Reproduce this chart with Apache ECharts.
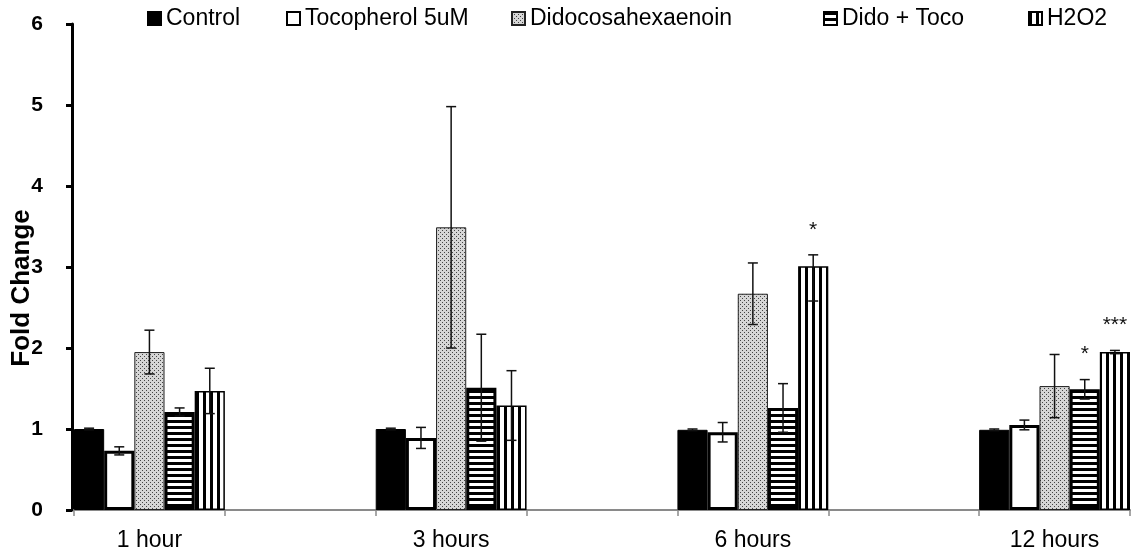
<!DOCTYPE html>
<html>
<head>
<meta charset="utf-8">
<script src="https://cdn.jsdelivr.net/npm/echarts@6/dist/echarts.min.js"></script>
<style>
html,body{margin:0;padding:0;background:#fff;}
#chart{width:1133px;height:550px;}
</style>
</head>
<body>
<div id="chart"></div>
<script>
// ---- data ----
const timepoints = ['1 hour', '3 hours', '6 hours', '12 hours'];
const seriesNames = ['Control', 'Tocopherol 5uM', 'Didocosahexaenoin', 'Dido + Toco', 'H2O2'];

const control       = [1.00, 1.00, 0.99, 0.99];
const controlErrUp  = [0.01, 0.01, 0.01, 0.01];
const controlErrDn  = [0.01, 0.01, 0.01, 0.01];

const tocopherol      = [0.73, 0.89, 0.96, 1.05];
const tocopherolErrUp = [0.05, 0.13, 0.12, 0.06];
const tocopherolErrDn = [0.05, 0.13, 0.12, 0.06];

const dido      = [1.95, 3.49, 2.67, 1.53];
const didoErrUp = [0.27, 1.49, 0.38, 0.39];
const didoErrDn = [0.27, 1.49, 0.38, 0.39];

const didoToco      = [1.21, 1.51, 1.26, 1.49];
const didoTocoErrUp = [0.05, 0.66, 0.30, 0.12];
const didoTocoErrDn = [0.05, 0.66, 0.30, 0.12];

const h2o2      = [1.47, 1.29, 3.01, 1.95];
const h2o2ErrUp = [0.28, 0.43, 0.14, 0.02];
const h2o2ErrDn = [0.28, 0.43, 0.43, 0.02];

const didoTocoSig = ['', '', '', '*'];
const h2o2Sig     = ['', '', '*', '***'];

const yTicks = [0, 1, 2, 3, 4, 5, 6];
const yTitle = 'Fold Change';

// ---- build ----
const FONT = "'Liberation Sans', Arial, sans-serif";
const categories = [];
timepoints.forEach((t, i) => { categories.push(t); if (i < timepoints.length - 1) categories.push(''); });
const catIndex = timepoints.map((t, i) => i * 2);

function spread(arr) {
  const out = categories.map(() => '-');
  arr.forEach((v, i) => { out[catIndex[i]] = v; });
  return out;
}

function pattern(kind) {
  const c = document.createElement('canvas');
  const ctx = c.getContext('2d');
  if (kind === 'dots') {
    c.width = 4; c.height = 4;
    ctx.fillStyle = '#d6d6d6'; ctx.fillRect(0, 0, 4, 4);
    ctx.fillStyle = '#444'; ctx.fillRect(0, 0, 1, 1); ctx.fillRect(2, 2, 1, 1);
  } else if (kind === 'h') {
    c.width = 6; c.height = 6;
    ctx.fillStyle = '#fff'; ctx.fillRect(0, 0, 6, 6);
    ctx.fillStyle = '#000'; ctx.fillRect(0, 0, 6, 3);
  } else {
    c.width = 7; c.height = 7;
    ctx.fillStyle = '#fff'; ctx.fillRect(0, 0, 7, 7);
    ctx.fillStyle = '#000'; ctx.fillRect(0, 0, 3, 7);
  }
  return { image: c, repeat: 'repeat' };
}

const seriesValues = [control, tocopherol, dido, didoToco, h2o2];
const errUp = [controlErrUp, tocopherolErrUp, didoErrUp, didoTocoErrUp, h2o2ErrUp];
const errDn = [controlErrDn, tocopherolErrDn, didoErrDn, didoTocoErrDn, h2o2ErrDn];
const sigs = [null, null, null, didoTocoSig, h2o2Sig];

const styles = [
  { color: '#000', borderColor: '#000', borderWidth: 1 },
  { color: '#fff', borderColor: '#000', borderWidth: 3 },
  { color: pattern('dots'), borderColor: '#222', borderWidth: 1 },
  { color: pattern('h'), borderColor: '#000', borderWidth: 3 },
  { color: pattern('v'), borderColor: '#000', borderWidth: 1.5 }
];

const barSeries = seriesNames.map((name, s) => ({
  name, type: 'bar',
  data: spread(seriesValues[s]),
  barGap: '0%', barCategoryGap: '0%',
  itemStyle: styles[s],
  emphasis: { disabled: true },
  animation: false
}));

const errData = [];
const errSig = [];
seriesValues.forEach((vals, s) => {
  vals.forEach((v, i) => {
    errData.push([catIndex[i], s, v, v - errDn[s][i], v + errUp[s][i]]);
    errSig.push(sigs[s] ? sigs[s][i] : '');
  });
});

const errSeries = {
  type: 'custom', name: 'err',
  data: errData,
  encode: { x: 0, y: [2, 3, 4] },
  z: 10, animation: false, silent: true,
  renderItem(params, api) {
    const cat = api.value(0), s = api.value(1);
    const base = api.coord([cat, 0]);
    const band = api.size([1, 0])[0];
    const bw = band / seriesNames.length;
    const x = base[0] + (s - (seriesNames.length - 1) / 2) * bw;
    const yLo = api.coord([cat, api.value(3)])[1];
    const yHi = api.coord([cat, api.value(4)])[1];
    const cap = 5;
    const ls = { stroke: '#111', lineWidth: 1.5 };
    const children = [
      { type: 'line', shape: { x1: x, y1: yLo, x2: x, y2: yHi }, style: ls },
      { type: 'line', shape: { x1: x - cap, y1: yHi, x2: x + cap, y2: yHi }, style: ls },
      { type: 'line', shape: { x1: x - cap, y1: yLo, x2: x + cap, y2: yLo }, style: ls }
    ];
    const sig = errSig[params.dataIndex];
    if (sig) {
      children.push({ type: 'text', style: { text: sig, x: x, y: yHi - 25, align: 'center', verticalAlign: 'middle', font: '21px ' + FONT, fill: '#111' } });
    }
    return { type: 'group', children };
  }
};

const legendLefts = [147, 286, 511, 823, 1028];
const legends = seriesNames.map((n, i) => ({
  data: [n], left: legendLefts[i], top: 7, padding: 0,
  icon: 'rect',
  itemWidth: 13, itemHeight: 13, itemGap: 4,
  selectedMode: false,
  textStyle: { fontSize: 23, color: '#000', fontFamily: FONT }
}));

const chart = echarts.init(document.getElementById('chart'), null, { renderer: 'canvas' });
chart.setOption({
  animation: false,
  backgroundColor: '#fff',
  legend: legends,
  grid: { left: 74, right: 3, top: 24, bottom: 40, containLabel: false, outerBoundsMode: 'none' },
  graphic: [{
    type: 'text', x: 22, y: 288, rotation: Math.PI / 2,
    style: { text: yTitle, font: 'bold 26px ' + FONT, fill: '#000', align: 'center', verticalAlign: 'middle' }
  }],
  xAxis: {
    type: 'category', data: categories,
    axisLine: { lineStyle: { color: '#8a8a8a', width: 2 } },
    axisTick: { show: true, length: 6, lineStyle: { color: '#8a8a8a', width: 1.5 }, interval: 0 },
    axisLabel: { interval: 0, fontSize: 23, color: '#000', fontFamily: FONT, margin: 19 }
  },
  yAxis: {
    type: 'value', min: yTicks[0], max: yTicks[yTicks.length - 1], interval: 1,
    offset: 2,
    axisLine: { show: true, lineStyle: { color: '#000', width: 3 } },
    axisTick: { show: true, length: 6, lineStyle: { color: '#000', width: 3 } },
    axisLabel: { fontSize: 21, fontWeight: 'bold', color: '#000', fontFamily: FONT, margin: 29 },
    splitLine: { show: false }
  },
  series: [...barSeries, errSeries]
});
</script>
</body>
</html>
